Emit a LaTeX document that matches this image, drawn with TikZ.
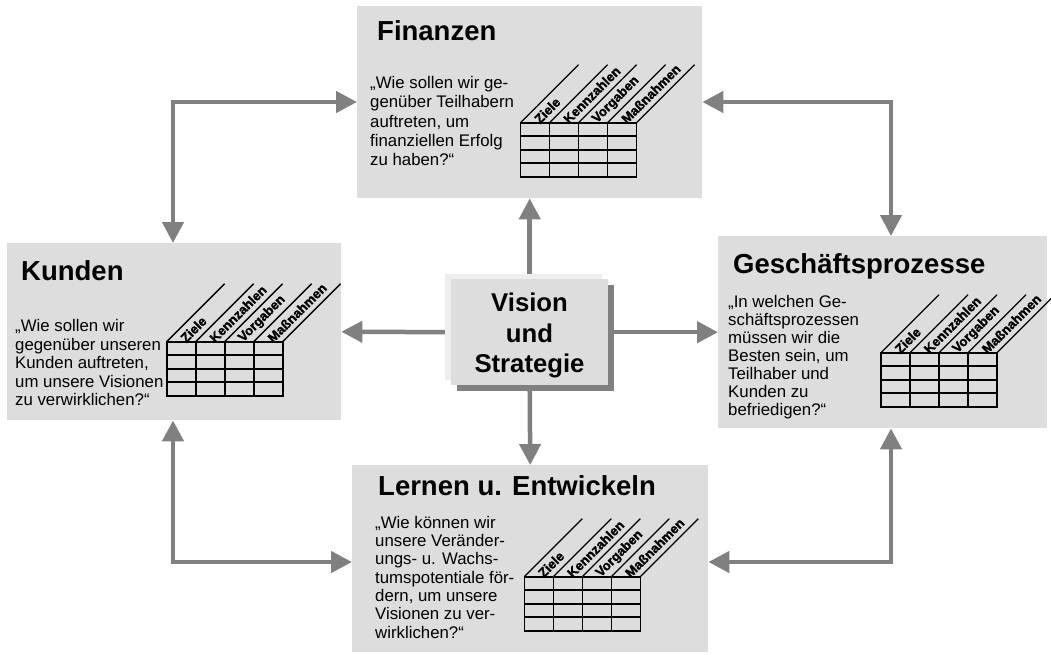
\documentclass[tikz,border=0pt]{standalone}
\usepackage{fontspec}
\setmainfont{Liberation Sans}
\newfontfamily\hdrfont[BoldFeatures={FakeBold=1.6}]{Liberation Sans}
\usetikzlibrary{arrows.meta,backgrounds}
\definecolor{boxgray}{RGB}{221,221,221}
\definecolor{arrgray}{RGB}{128,128,128}
\definecolor{hlgray}{RGB}{238,238,238}
\tikzset{
  panel/.style={fill=boxgray, draw=none, inner sep=0, anchor=north west},
  arr/.style={draw=arrgray, line width=4.5pt, -{Triangle[width=21pt,length=21pt]}},
  darr/.style={draw=arrgray, line width=4.5pt, {Triangle[width=21pt,length=21pt]}-{Triangle[width=21pt,length=21pt]}},
  ttl/.style={font=\bfseries\fontsize{27.5}{30}\selectfont, anchor=base west, inner sep=0},
  body/.style={font=\fontsize{16.8}{#1}\selectfont, align=left, anchor=north west, inner sep=0},
  tab/.style={line width=1.6pt, draw=black},
  slant/.style={line width=1.3pt, draw=black},
  hdr/.style={font=\hdrfont\bfseries\fontsize{13.2}{14}\selectfont, rotate=45, anchor=west, inner sep=0},
}
\newcommand\bsctab[3]{%
  \draw[tab] (#1,#2) rectangle ++(116,54);
  \foreach \i in {1,2,3} {
    \draw[tab] (#1,#2+13.5*\i) -- ++(116,0);
    \draw[tab] (#1+29*\i,#2) -- ++(0,54);
  }
  \foreach \i in {0,...,4} \draw[slant] (#1+29*\i,#2) -- ++(58,-58);
  \foreach \t [count=\i from 0] in {Ziele,Kennzahlen,Vorgaben,Maßnahmen}
    \node[hdr] (#3\i) at (#1+29*\i+14.5+1.5,#2-1.5) {\t};
}
\begin{document}
\begin{tikzpicture}[x=1pt,y=-1pt]
\useasboundingbox (0,0) rectangle (1051,654);
% panels
\node[panel, minimum width=345pt, minimum height=192pt] (fin) at (357,6) {};
\node[panel, minimum width=334pt, minimum height=177pt] (kun) at (7,243) {};
\node[panel, minimum width=329pt, minimum height=192pt] (ges) at (718,236) {};
\node[panel, minimum width=356pt, minimum height=187pt] (ler) at (352,465) {};
% center box
\node[fill=arrgray, inner sep=0, anchor=north west, minimum width=157pt, minimum height=106pt] (vissh) at (457,285) {};
\node[fill=hlgray, inner sep=0, anchor=north west, minimum width=157pt, minimum height=106pt] (vishl) at (445,274) {};
\node[fill=boxgray, inner sep=0, anchor=north west, minimum width=157pt, minimum height=106pt] (vis) at (451,279) {};
\node[font=\bfseries\fontsize{25.7}{30.5}\selectfont, align=center, anchor=north, inner sep=0] (vistext) at (529.5,291.7) {\rule{0pt}{20pt}Vision\\und\\Strategie};
% connectors
\begin{pgfonlayer}{background}
\fill[white] (0,0) rectangle (1051,654);
\draw[arr] (vis.north) -- (fin.south);
\draw[arr] (vis.west) -- (kun.east);
\draw[arr] (vis.east) -- (ges.west);
\draw[arr] (vis.south) -- (ler.north);
\draw[darr] (fin.west |- 0,102) -| (kun.north -| 173,0);
\draw[darr] (fin.east |- 0,102) -| (ges.north -| 891,0);
\draw[darr] (kun.south -| 173,0) |- (ler.west |- 0,562);
\draw[darr] (ges.south -| 891,0) |- (ler.east |- 0,562);
\end{pgfonlayer}
% titles
\node[ttl] (fint) at (377,40) {Finanzen};
\node[ttl] (kunt) at (21,280) {Kunden};
\node[ttl] (gest) at (733,273) {Geschäftsprozesse};
\node[ttl] (lert) at (378,495) {Lernen u. Entwickeln};
% body texts
\node[body=19.3] (finb) at (370,88.3-14) {\rule{0pt}{14pt}„Wie sollen wir ge-\\genüber Teilhabern\\auftreten, um\\finanziellen Erfolg\\zu haben?“};
\node[body=18.5] (kunb) at (15,331.7-14) {\rule{0pt}{14pt}„Wie sollen wir\\gegenüber unseren\\Kunden auftreten,\\um unsere Visionen\\zu verwirklichen?“};
\node[body=18.1] (gesb) at (728,307-14) {\rule{0pt}{14pt}„In welchen Ge-\\schäftsprozessen\\müssen wir die\\Besten sein, um\\Teilhaber und\\Kunden zu\\befriedigen?“};
\node[body=18.3] (lerb) at (375,528-14) {\rule{0pt}{14pt}„Wie können wir\\unsere Veränder-\\ungs- u. Wachs-\\tumspotentiale för-\\dern, um unsere\\Visionen zu ver-\\wirklichen?“};
% tables
\bsctab{520.5}{122.7}{fint}
\bsctab{166.7}{341.7}{kunt}
\bsctab{881}{352.7}{gest}
\bsctab{524.3}{576.7}{lert}
\end{tikzpicture}
\end{document}
